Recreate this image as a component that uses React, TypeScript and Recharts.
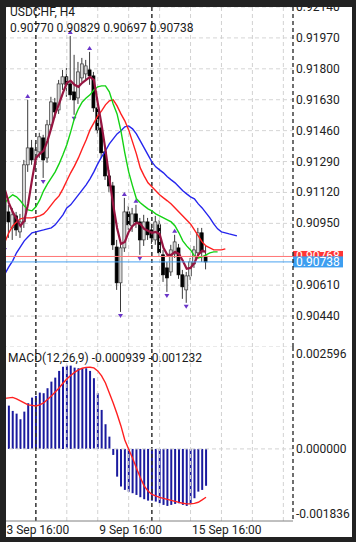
import React from "react";
import {
  ComposedChart,
  Bar,
  Line,
  XAxis,
  YAxis,
  CartesianGrid,
  ReferenceLine,
} from "recharts";

const FONT = "Roboto, 'Noto Sans', sans-serif";

const symbolTitle = "USDCHF, H4";
const lastQuote = "0.90770 0.90829 0.90697 0.90738";
const macdTitle = "MACD(12,26,9) -0.000939 -0.001232";

// H4 candles, bar 0 = 3 Sep 16:00
const opens = [
  0.91079, 0.91013, 0.90925, 0.90991, 0.90903, 0.90958, 0.91272, 0.91365, 0.91299, 0.91343,
  0.9142, 0.9131, 0.91492, 0.91613, 0.91574, 0.91717, 0.91756, 0.91717, 0.91673, 0.9164,
  0.9175, 0.91772, 0.91794, 0.91761, 0.91585, 0.91475, 0.91343, 0.91211, 0.91156, 0.9082,
  0.90623, 0.90815, 0.91013, 0.90936, 0.91002, 0.90958, 0.90859, 0.90958, 0.90914, 0.90859,
  0.90942, 0.90777, 0.90705, 0.90683, 0.90782, 0.90815, 0.90667, 0.90584, 0.90661, 0.90727,
  0.90788, 0.90898, 0.9077,
];
const highs = [
  0.91134, 0.91052, 0.91035, 0.91013, 0.91002, 0.91299, 0.91629, 0.91409, 0.91393, 0.91448,
  0.91437, 0.91519, 0.91646, 0.9164, 0.91739, 0.91794, 0.91805, 0.91981, 0.91877, 0.91838,
  0.9186, 0.91849, 0.91893, 0.91783, 0.91607, 0.91508, 0.91365, 0.91244, 0.91178, 0.90859,
  0.90859, 0.9109, 0.91046, 0.91035, 0.91052, 0.9098, 0.90997, 0.9098, 0.90947, 0.90991,
  0.90969, 0.90804, 0.90738, 0.90832, 0.90887, 0.90837, 0.90694, 0.90683, 0.9076, 0.90826,
  0.90925, 0.90925, 0.90829,
];
const lows = [
  0.90826, 0.9087, 0.90859, 0.90881, 0.9087, 0.90925, 0.91233, 0.91272, 0.91255, 0.9131,
  0.912, 0.91283, 0.91464, 0.9153, 0.91552, 0.91684, 0.91646, 0.91629, 0.91547, 0.91607,
  0.91728, 0.91739, 0.91712, 0.91563, 0.91442, 0.9131, 0.91189, 0.91123, 0.90804, 0.90584,
  0.90463, 0.90793, 0.90914, 0.90903, 0.90925, 0.90777, 0.90826, 0.90859, 0.90837, 0.90832,
  0.90766, 0.90628, 0.90573, 0.90661, 0.9076, 0.90645, 0.90535, 0.90513, 0.90639, 0.90705,
  0.90766, 0.90738, 0.90697,
];
const closes = [
  0.91013, 0.90958, 0.90997, 0.90914, 0.90958, 0.91272, 0.91365, 0.91299, 0.91354, 0.91426,
  0.91299, 0.91492, 0.91618, 0.91563, 0.91717, 0.91756, 0.91712, 0.91657, 0.91629, 0.91783,
  0.91827, 0.91816, 0.91761, 0.91585, 0.91464, 0.91338, 0.91211, 0.91156, 0.90832, 0.90623,
  0.90815, 0.91013, 0.90942, 0.91002, 0.90958, 0.90859, 0.90958, 0.90887, 0.9087, 0.90958,
  0.90788, 0.90667, 0.9065, 0.90804, 0.90848, 0.90667, 0.90601, 0.90661, 0.90738, 0.90804,
  0.90898, 0.90793, 0.90738,
];

// short moving average (dark red)
const fastMa = [
  0.91134, 0.91063, 0.91013, 0.90975, 0.90936, 0.90964, 0.91057, 0.91189, 0.9131, 0.91332,
  0.91349, 0.91404, 0.91475, 0.91552, 0.91607, 0.91668, 0.91723, 0.91734, 0.91712, 0.91701,
  0.91723, 0.91739, 0.91756, 0.91739, 0.91613, 0.91492, 0.91354, 0.912, 0.91052, 0.90925,
  0.90837, 0.90848, 0.90903, 0.90936, 0.90953, 0.90947, 0.9092, 0.90909, 0.90898, 0.90903,
  0.90892, 0.90815, 0.90777, 0.90777, 0.90793, 0.90782, 0.90744, 0.907, 0.90705, 0.90733,
  0.90777, 0.90799, 0.90793,
];
// alligator lips (green), shifted forward
const lips = [
  0.91063, 0.9109, 0.91107, 0.91096, 0.91074, 0.91046, 0.91024, 0.91019, 0.91041, 0.91079,
  0.91129, 0.91167, 0.912, 0.91233, 0.91277, 0.91327, 0.91382, 0.91453, 0.9153, 0.9158,
  0.91618, 0.9164, 0.91657, 0.91684, 0.91701, 0.91706, 0.91706, 0.91673, 0.91607, 0.91552,
  0.91459, 0.91338, 0.91233, 0.91156, 0.91085, 0.91063, 0.91046, 0.9103, 0.91019, 0.91002,
  0.90991, 0.9098, 0.90969, 0.90958, 0.90936, 0.90898, 0.90854, 0.90826, 0.90804, 0.90771,
  0.9076, 0.90766, 0.90777, 0.90788, 0.90793, 0.90793,
];
// alligator teeth (red)
const teeth = [
  0.90848, 0.90898, 0.90936, 0.90958, 0.90975, 0.9098, 0.9098, 0.9098, 0.90986, 0.90991,
  0.91002, 0.91024, 0.91052, 0.91079, 0.91101, 0.9114, 0.91184, 0.91228, 0.91266, 0.9131,
  0.9136, 0.91409, 0.91464, 0.91503, 0.91541, 0.91569, 0.91602, 0.91624, 0.91629, 0.91596,
  0.91552, 0.91514, 0.91464, 0.91398, 0.91332, 0.91255, 0.91211, 0.91173, 0.91151, 0.91129,
  0.91107, 0.9109, 0.91074, 0.91057, 0.91035, 0.91013, 0.90991, 0.90969, 0.90947, 0.90914,
  0.90881, 0.90848, 0.90826, 0.90815, 0.90804, 0.90804, 0.90804, 0.9081,
];
// alligator jaw (blue)
const jaw = [
  0.90672, 0.90711, 0.90744, 0.90788, 0.90821, 0.90854, 0.90876, 0.90898, 0.90903, 0.90909,
  0.90914, 0.9092, 0.90925, 0.90942, 0.90969, 0.90997, 0.91035, 0.91052, 0.91079, 0.91107,
  0.91134, 0.91162, 0.91195, 0.91233, 0.91277, 0.91316, 0.91349, 0.91387, 0.91415, 0.91442,
  0.91459, 0.91481, 0.91486, 0.9147, 0.91442, 0.91404, 0.91365, 0.91327, 0.91288, 0.91261,
  0.91244, 0.91228, 0.91206, 0.91189, 0.91173, 0.91151, 0.91129, 0.91112, 0.91096, 0.91085,
  0.91057, 0.91035, 0.91008, 0.9098, 0.90947, 0.9092, 0.90903, 0.90898, 0.90892, 0.90887,
  0.90881,
];

const macdHist = [
  0.0012, 0.001103, 0.000968, 0.000899, 0.000756, 0.00095, 0.001164, 0.001307, 0.00135, 0.001434,
  0.001419, 0.001546, 0.001714, 0.001816, 0.001987, 0.002096, 0.002122, 0.002122, 0.002071, 0.002055,
  0.002055, 0.002055, 0.001987, 0.001801, 0.001419, 0.000993, 0.000629, 0.000313, -0.000153, -0.000706,
  -0.00096, -0.001044, -0.001088, -0.001128, -0.001172, -0.00123, -0.001281, -0.001317, -0.001317, -0.001342,
  -0.001383, -0.001426, -0.001452, -0.001426, -0.001401, -0.001383, -0.001426, -0.001452, -0.001401, -0.001256,
  -0.001088, -0.001044, -0.000939,
];
const macdSignal = [
  0.001286, 0.001299, 0.001312, 0.001274, 0.001223, 0.001172, 0.001121, 0.001108, 0.001095, 0.001121,
  0.001172, 0.001261, 0.00135, 0.001452, 0.001554, 0.001673, 0.001783, 0.001872, 0.001948, 0.002012,
  0.002055, 0.002076, 0.002081, 0.002063, 0.001987, 0.001859, 0.001681, 0.001426, 0.001172, 0.000891,
  0.000586, 0.000229, -0.00001, -0.000229, -0.000484, -0.000726, -0.000942, -0.00107, -0.001159, -0.001197,
  -0.001235, -0.001261, -0.001286, -0.001312, -0.001337, -0.001363, -0.001383, -0.001401, -0.001401, -0.001388,
  -0.001358, -0.001299, -0.001232,
];

const fractalUpBars = [6, 17, 22, 31, 34, 44];
const fractalDownBars = [0, 10, 18, 30, 35, 42, 47];

const barSlots = 75; // visible bar slots incl. empty space on the right
const priceDomain = [0.9027, 0.9214];
const priceTicks = [0.9214, 0.9197, 0.918, 0.9163, 0.9146, 0.9129, 0.9112, 0.9095, 0.9061, 0.9044];
const macdDomain = [-0.001836, 0.002596];
const macdTicks = [0.002596, 0, -0.001836];
const askPrice = 0.90768;
const bidPrice = 0.90738;
const timeTickBars = [0, 24, 48];
const timeLabels = ["3 Sep 16:00", "9 Sep 16:00", "15 Sep 16:00"];
const gridBars = [0, 16, 24, 32, 40, 48, 56, 64, 72];
const separatorBars = [8, 38];

const rows = Array.from({ length: barSlots }, (_, i) => ({
  i,
  range: i < opens.length ? [lows[i], highs[i]] : null,
  o: opens[i],
  h: highs[i],
  l: lows[i],
  c: closes[i],
  fast: fastMa[i],
  lips: lips[i],
  teeth: teeth[i],
  jaw: jaw[i],
  hist: macdHist[i],
  signal: macdSignal[i],
  up: fractalUpBars.includes(i),
  down: fractalDownBars.includes(i),
}));

const Candle = (props: any) => {
  const { x, y, width, height } = props;
  const d = props.payload || props;
  if (d == null || d.o == null || isNaN(y)) return null;
  const top = Math.min(y, y + height);
  const bot = Math.max(y, y + height);
  const span = d.h - d.l;
  const py = (v: number) => (span > 0 ? top + ((d.h - v) / span) * (bot - top) : top);
  const cx = x + width / 2;
  const bull = d.c >= d.o;
  const bTop = py(Math.max(d.o, d.c));
  const bBot = py(Math.min(d.o, d.c));
  return (
    <g>
      <line x1={cx} x2={cx} y1={top} y2={bot} stroke="#3a3a3a" strokeWidth={1} />
      <rect
        x={cx - 1.5}
        y={bTop}
        width={3}
        height={Math.max(bBot - bTop, 1)}
        fill={bull ? "#d8d8d8" : "#000"}
        stroke={bull ? "#3a3a3a" : "#000"}
        strokeWidth={0.7}
      />
      {d.up && (
        <polygon
          points={`${cx},${top - 6} ${cx - 2.5},${top - 2} ${cx + 2.5},${top - 2}`}
          fill="#6a35c9"
        />
      )}
      {d.down && (
        <polygon
          points={`${cx},${bot + 6} ${cx - 2.5},${bot + 2} ${cx + 2.5},${bot + 2}`}
          fill="#6a35c9"
        />
      )}
    </g>
  );
};

const PriceTick = (props: any) => {
  const { x, y, payload } = props;
  return (
    <text x={x} y={y} dy={4} textAnchor="start" fontSize={12} fontFamily={FONT} fill="#222">
      {Number(payload.value).toFixed(5)}
    </text>
  );
};

const MacdTick = (props: any) => {
  const { x, y, payload } = props;
  const v = Number(payload.value);
  const dy = v === macdDomain[1] ? 11 : v === macdDomain[0] ? -3 : 4;
  return (
    <text x={x} y={y} dy={dy} textAnchor="start" fontSize={12} fontFamily={FONT} fill="#222">
      {v.toFixed(6)}
    </text>
  );
};

const TimeTick = (props: any) => {
  const { x, y, payload } = props;
  const label = timeLabels[timeTickBars.indexOf(payload.value)];
  return (
    <text x={x + 1.5} y={y} dy={13} textAnchor="start" fontSize={12} fontFamily={FONT} fill="#222">
      {label}
    </text>
  );
};

const PriceTag = (props: any) => {
  const { viewBox, price, color } = props;
  if (!viewBox) return null;
  const x = viewBox.x + viewBox.width;
  const y = viewBox.y;
  return (
    <g>
      <rect x={x} y={y - 5.5} width={50} height={11} fill={color} />
      <text x={x + 3} y={y + 4} fontSize={12} fontFamily={FONT} fill="#fff">
        {price.toFixed(5)}
      </text>
    </g>
  );
};

const verticalGrid = () => [
  ...gridBars.map((b) => (
    <ReferenceLine key={`g${b}`} x={b} position="middle" stroke="#d2d2d2" strokeDasharray="4 3" />
  )),
  ...separatorBars.map((b) => (
    <ReferenceLine key={`s${b}`} x={b} position="middle" stroke="#333" strokeWidth={1.5} strokeDasharray="4 3" />
  )),
];

const textStyle: React.CSSProperties = {
  position: "absolute",
  fontFamily: FONT,
  fontSize: 12,
  lineHeight: "14px",
  color: "#1a1a1a",
  whiteSpace: "nowrap",
};

const frame = "#222";

export default function App() {
  return (
    <div style={{ position: "absolute", left: 0, top: 0, width: 356, height: 542, background: "#fff", overflow: "hidden" }}>
      <div style={{ position: "absolute", left: 0, top: 0 }}>
        <ComposedChart width={356} height={347} data={rows} margin={{ top: 7, right: 0, bottom: 0, left: 3 }}>
          <CartesianGrid vertical={false} stroke="#d5d5d5" strokeDasharray="4 3" />
          <XAxis dataKey="i" type="category" height={0} tick={false} tickLine={false} axisLine={{ stroke: "#808080" }} />
          <YAxis
            orientation="right"
            width={63}
            domain={priceDomain}
            ticks={priceTicks}
            interval={0}
            allowDataOverflow
            tickLine={false}
            tickSize={0}
            tickMargin={3}
            axisLine={{ stroke: "#222", strokeDasharray: "4 3", strokeWidth: 1.3 }}
            tick={<PriceTick />}
          />
          {verticalGrid()}
          <Bar dataKey="range" barSize={3} shape={(p: any) => <Candle {...p} />} isAnimationActive={false} />
          <Line type="linear" dataKey="jaw" stroke="#2626ee" strokeWidth={1.4} dot={false} isAnimationActive={false} />
          <Line type="linear" dataKey="teeth" stroke="#ff2020" strokeWidth={1.4} dot={false} isAnimationActive={false} />
          <Line type="linear" dataKey="lips" stroke="#14d214" strokeWidth={1.4} dot={false} isAnimationActive={false} />
          <Line type="linear" dataKey="fast" stroke="#961440" strokeWidth={2.2} dot={false} isAnimationActive={false} />
          <ReferenceLine y={askPrice} stroke="#ff7575" label={<PriceTag price={askPrice} color="#ff3535" />} />
          <ReferenceLine y={bidPrice} stroke="#4aa3f0" label={<PriceTag price={bidPrice} color="#3d9ef0" />} />
        </ComposedChart>
      </div>
      <div style={{ position: "absolute", left: 0, top: 347 }}>
        <ComposedChart width={356} height={195} data={rows} margin={{ top: 0, right: 0, bottom: 0, left: 3 }}>
          <XAxis
            dataKey="i"
            type="category"
            height={21}
            ticks={timeTickBars}
            interval={0}
            tickLine={false}
            tickSize={0}
            tickMargin={0}
            axisLine={{ stroke: "#808080" }}
            tick={<TimeTick />}
          />
          <YAxis
            orientation="right"
            width={63}
            domain={macdDomain}
            ticks={macdTicks}
            interval={0}
            allowDataOverflow
            tickLine={false}
            tickSize={0}
            tickMargin={3}
            axisLine={{ stroke: "#222", strokeDasharray: "4 3", strokeWidth: 1.3 }}
            tick={<MacdTick />}
          />
          {verticalGrid()}
          <ReferenceLine y={0} stroke="#d2d2d2" strokeDasharray="4 3" />
          <Bar dataKey="hist" barSize={2} fill="#1a1a9e" isAnimationActive={false} />
          <Line type="linear" dataKey="signal" stroke="#ff2020" strokeWidth={1.4} dot={false} isAnimationActive={false} />
        </ComposedChart>
      </div>
      <div style={{ ...textStyle, left: 10, top: 5 }}>{symbolTitle}</div>
      <div style={{ ...textStyle, left: 10, top: 21 }}>{lastQuote}</div>
      <div style={{ ...textStyle, left: 8, top: 351 }}>{macdTitle}</div>
      <div style={{ position: "absolute", left: 0, top: 0, width: 356, height: 7, background: frame }} />
      <div style={{ position: "absolute", left: 0, top: 0, width: 6, height: 542, background: frame }} />
      <div style={{ position: "absolute", left: 352, top: 0, width: 4, height: 542, background: frame }} />
      <div style={{ position: "absolute", left: 0, top: 537, width: 356, height: 5, background: frame }} />
    </div>
  );
}
